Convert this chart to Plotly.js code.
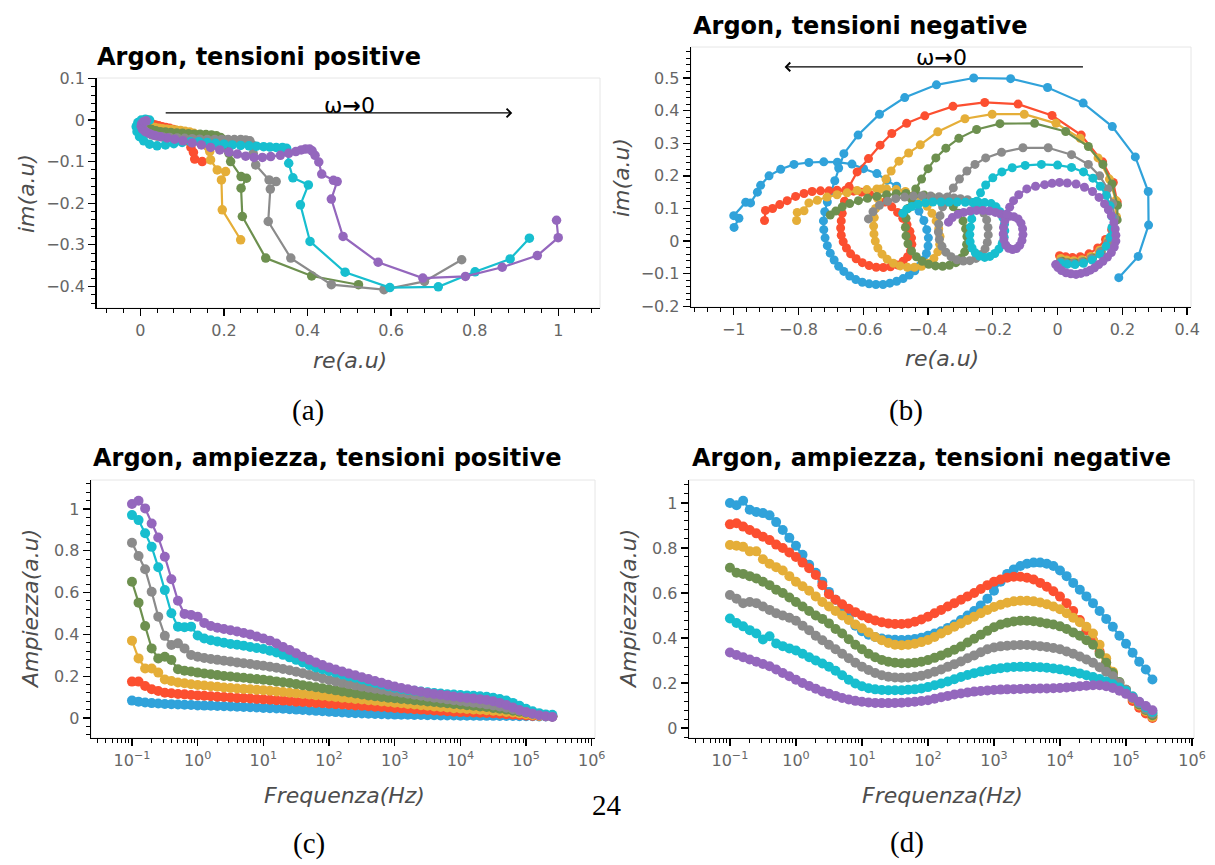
<!DOCTYPE html>
<html><head><meta charset="utf-8">
<script src="https://cdn.plot.ly/plotly-3.0.1.min.js"></script>
<style>html,body{margin:0;padding:0;background:#fff}#plot{width:1215px;height:865px}</style>
</head><body><div id="plot"></div>
<script>
// ---------- DATA ----------
const COLORS = ['#30a2da','#fc4f30','#e5ae38','#6d904f','#8b8b8b','#17becf','#9467bd'];

// Frequencies (Hz) for amplitude plots
const FREQ = [0.1,0.1259,0.1585,0.1995,0.2512,0.3162,0.3981,0.5012,0.631,0.7943,
1,1.259,1.585,1.995,2.512,3.162,3.981,5.012,6.31,7.943,
10,12.59,15.85,19.95,25.12,31.62,39.81,50.12,63.1,79.43,
100,125.9,158.5,199.5,251.2,316.2,398.1,501.2,631,794.3,
1000,1259,1585,1995,2512,3162,3981,5012,6310,7943,
10000,12590,15850,19950,25120,31620,39810,50120,63100,79430,
100000,125900,158500,199500,251200];

const LOG_TICKVALS = [0.1,1,10,100,1000,10000,100000,1000000];
const LOG_TICKTEXT = ['10<sup>\u22121</sup>','10<sup>0</sup>','10<sup>1</sup>','10<sup>2</sup>','10<sup>3</sup>','10<sup>4</sup>','10<sup>5</sup>','10<sup>6</sup>'];

// (a) Argon, tensioni positive  [re, im]
const posBlue = [[0.072,-0.041],[0.066,-0.036],[0.060,-0.033],[0.054,-0.030],[0.048,-0.027],[0.042,-0.024],[0.036,-0.021],[0.030,-0.018],[0.025,-0.015],[0.020,-0.012],[0.016,-0.009],[0.013,-0.006],[0.012,-0.003],[0.013,0.000]];
const posRed = [[0.148,-0.100],[0.130,-0.094],[0.127,-0.078],[0.121,-0.066],[0.117,-0.052],[0.112,-0.042],[0.105,-0.035],[0.097,-0.030],[0.088,-0.026],[0.079,-0.023],[0.070,-0.020],[0.061,-0.018],[0.052,-0.016],[0.044,-0.014],[0.036,-0.012],[0.029,-0.010],[0.023,-0.008],[0.018,-0.006],[0.015,-0.004],[0.014,-0.002],[0.016,0.000]];
const posYellow = [[0.240,-0.288],[0.196,-0.216],[0.194,-0.144],[0.204,-0.124],[0.184,-0.120],[0.168,-0.096],[0.166,-0.076],[0.161,-0.064],[0.155,-0.052],[0.147,-0.042],[0.138,-0.036],[0.128,-0.032],[0.118,-0.029],[0.107,-0.027],[0.096,-0.025],[0.085,-0.024],[0.074,-0.023],[0.063,-0.022],[0.053,-0.021],[0.044,-0.020],[0.035,-0.018],[0.027,-0.016],[0.020,-0.013],[0.015,-0.010],[0.013,-0.006],[0.014,-0.003]];
const posGreen = [[0.522,-0.396],[0.410,-0.375],[0.300,-0.332],[0.244,-0.232],[0.241,-0.164],[0.254,-0.140],[0.241,-0.136],[0.216,-0.100],[0.212,-0.080],[0.208,-0.062],[0.200,-0.048],[0.192,-0.042],[0.182,-0.038],[0.170,-0.036],[0.157,-0.035],[0.143,-0.034],[0.129,-0.034],[0.115,-0.033],[0.101,-0.032],[0.087,-0.031],[0.073,-0.030],[0.060,-0.029],[0.048,-0.028],[0.037,-0.026],[0.027,-0.023],[0.018,-0.019],[0.011,-0.014],[0.008,-0.009],[0.009,-0.005],[0.013,-0.003]];
const posGrey = [[0.769,-0.336],[0.680,-0.388],[0.583,-0.408],[0.457,-0.396],[0.360,-0.332],[0.306,-0.244],[0.311,-0.166],[0.325,-0.148],[0.308,-0.144],[0.276,-0.108],[0.270,-0.080],[0.268,-0.060],[0.262,-0.050],[0.252,-0.048],[0.240,-0.047],[0.225,-0.047],[0.210,-0.047],[0.195,-0.047],[0.178,-0.047],[0.160,-0.047],[0.142,-0.046],[0.124,-0.045],[0.106,-0.044],[0.088,-0.043],[0.070,-0.042],[0.054,-0.041],[0.040,-0.039],[0.028,-0.036],[0.017,-0.031],[0.009,-0.024],[0.004,-0.016],[0.004,-0.009],[0.008,-0.004],[0.014,-0.002]];
const posCyan = [[0.931,-0.284],[0.885,-0.334],[0.801,-0.365],[0.713,-0.401],[0.597,-0.403],[0.490,-0.366],[0.406,-0.292],[0.383,-0.204],[0.402,-0.156],[0.365,-0.139],[0.355,-0.104],[0.353,-0.078],[0.350,-0.068],[0.340,-0.066],[0.325,-0.066],[0.310,-0.065],[0.295,-0.064],[0.278,-0.063],[0.260,-0.062],[0.240,-0.061],[0.220,-0.060],[0.200,-0.058],[0.180,-0.056],[0.160,-0.054],[0.140,-0.052],[0.120,-0.052],[0.100,-0.054],[0.080,-0.057],[0.060,-0.060],[0.040,-0.062],[0.022,-0.058],[0.008,-0.050],[-0.002,-0.040],[-0.008,-0.028],[-0.010,-0.016],[-0.006,-0.006],[0.002,0.000],[0.012,0.002],[0.022,0.000]];
const posPurple = [[0.996,-0.241],[1.000,-0.283],[0.950,-0.326],[0.866,-0.354],[0.778,-0.376],[0.676,-0.380],[0.569,-0.342],[0.485,-0.280],[0.457,-0.190],[0.471,-0.148],[0.462,-0.145],[0.434,-0.130],[0.427,-0.101],[0.418,-0.085],[0.411,-0.074],[0.405,-0.070],[0.395,-0.070],[0.385,-0.072],[0.372,-0.076],[0.355,-0.080],[0.335,-0.085],[0.312,-0.088],[0.292,-0.090],[0.272,-0.090],[0.252,-0.087],[0.232,-0.082],[0.212,-0.077],[0.190,-0.072],[0.168,-0.066],[0.146,-0.060],[0.124,-0.055],[0.102,-0.050],[0.082,-0.046],[0.064,-0.043],[0.048,-0.040],[0.034,-0.037],[0.022,-0.033],[0.012,-0.028],[0.005,-0.022],[0.002,-0.015],[0.003,-0.009],[0.008,-0.004],[0.014,-0.002]];

// (b) Argon, tensioni negative  [re, im]
const negBlue = [[-0.999,0.042],[-0.984,0.070],[-1.000,0.078],[-0.963,0.119],[-0.948,0.117],[-0.927,0.150],[-0.917,0.171],[-0.891,0.200],[-0.855,0.220],[-0.814,0.235],[-0.768,0.241],[-0.722,0.243],[-0.680,0.242],[-0.635,0.236],[-0.599,0.222],[-0.558,0.207],[-0.527,0.186],[-0.497,0.168],[-0.470,0.145],[-0.447,0.120],[-0.428,0.092],[-0.413,0.063],[-0.404,0.035],[-0.399,0.010],[-0.400,-0.015],[-0.405,-0.038],[-0.414,-0.058],[-0.426,-0.076],[-0.441,-0.091],[-0.458,-0.104],[-0.477,-0.115],[-0.497,-0.123],[-0.518,-0.129],[-0.539,-0.133],[-0.561,-0.133],[-0.582,-0.131],[-0.603,-0.126],[-0.623,-0.118],[-0.642,-0.107],[-0.660,-0.093],[-0.676,-0.077],[-0.690,-0.058],[-0.702,-0.037],[-0.711,-0.014],[-0.718,0.010],[-0.722,0.035],[-0.723,0.062],[-0.719,0.090],[-0.711,0.120],[-0.699,0.152],[-0.688,0.185],[-0.676,0.224],[-0.660,0.268],[-0.616,0.325],[-0.550,0.389],[-0.472,0.440],[-0.374,0.479],[-0.259,0.500],[-0.145,0.498],[-0.031,0.471],[0.079,0.423],[0.169,0.351],[0.240,0.258],[0.280,0.152],[0.281,0.049],[0.249,-0.047],[0.189,-0.112]];
const negRed = [[-0.905,0.063],[-0.902,0.094],[-0.880,0.100],[-0.858,0.112],[-0.835,0.124],[-0.809,0.137],[-0.783,0.146],[-0.758,0.152],[-0.732,0.154],[-0.706,0.154],[-0.681,0.156],[-0.655,0.156],[-0.630,0.153],[-0.605,0.150],[-0.580,0.143],[-0.556,0.133],[-0.533,0.120],[-0.512,0.105],[-0.494,0.088],[-0.478,0.070],[-0.465,0.050],[-0.456,0.030],[-0.451,0.010],[-0.450,-0.010],[-0.454,-0.030],[-0.463,-0.048],[-0.477,-0.062],[-0.495,-0.073],[-0.516,-0.079],[-0.538,-0.081],[-0.560,-0.080],[-0.582,-0.075],[-0.603,-0.066],[-0.622,-0.054],[-0.639,-0.039],[-0.652,-0.021],[-0.662,-0.002],[-0.668,0.018],[-0.670,0.040],[-0.668,0.062],[-0.665,0.085],[-0.658,0.122],[-0.644,0.167],[-0.619,0.212],[-0.584,0.253],[-0.548,0.294],[-0.512,0.330],[-0.466,0.361],[-0.410,0.384],[-0.323,0.413],[-0.225,0.425],[-0.122,0.420],[-0.017,0.385],[0.073,0.325],[0.139,0.243],[0.172,0.180],[0.184,0.120],[0.180,0.070],[0.167,0.035],[0.148,0.005],[0.124,-0.021],[0.097,-0.039],[0.070,-0.048],[0.046,-0.050],[0.025,-0.048],[0.006,-0.045]];
const negYellow = [[-0.806,0.063],[-0.804,0.088],[-0.783,0.093],[-0.768,0.117],[-0.742,0.125],[-0.712,0.135],[-0.681,0.142],[-0.650,0.148],[-0.619,0.155],[-0.589,0.158],[-0.558,0.160],[-0.528,0.160],[-0.498,0.158],[-0.470,0.152],[-0.445,0.140],[-0.422,0.125],[-0.403,0.107],[-0.388,0.085],[-0.375,0.062],[-0.367,0.038],[-0.363,0.014],[-0.364,-0.010],[-0.370,-0.033],[-0.382,-0.053],[-0.400,-0.068],[-0.420,-0.077],[-0.442,-0.080],[-0.464,-0.080],[-0.486,-0.076],[-0.507,-0.068],[-0.526,-0.056],[-0.542,-0.040],[-0.555,-0.021],[-0.563,0.000],[-0.567,0.022],[-0.568,0.046],[-0.566,0.072],[-0.562,0.100],[-0.555,0.130],[-0.545,0.160],[-0.530,0.190],[-0.514,0.215],[-0.490,0.245],[-0.460,0.270],[-0.424,0.295],[-0.370,0.335],[-0.286,0.375],[-0.202,0.389],[-0.103,0.389],[-0.005,0.361],[0.070,0.315],[0.125,0.255],[0.160,0.190],[0.180,0.125],[0.182,0.075],[0.172,0.035],[0.155,0.002],[0.130,-0.028],[0.103,-0.047],[0.075,-0.057],[0.050,-0.060],[0.028,-0.058],[0.010,-0.053]];
const negGreen = [[-0.702,0.080],[-0.685,0.092],[-0.665,0.105],[-0.642,0.115],[-0.615,0.124],[-0.587,0.131],[-0.558,0.137],[-0.528,0.142],[-0.498,0.145],[-0.468,0.146],[-0.438,0.145],[-0.412,0.141],[-0.388,0.135],[-0.365,0.130],[-0.342,0.120],[-0.322,0.105],[-0.305,0.085],[-0.292,0.062],[-0.284,0.038],[-0.280,0.014],[-0.281,-0.010],[-0.287,-0.033],[-0.298,-0.052],[-0.314,-0.066],[-0.334,-0.074],[-0.355,-0.077],[-0.377,-0.076],[-0.398,-0.071],[-0.418,-0.062],[-0.436,-0.048],[-0.451,-0.030],[-0.462,-0.008],[-0.468,0.016],[-0.470,0.042],[-0.468,0.070],[-0.462,0.100],[-0.452,0.130],[-0.438,0.160],[-0.420,0.190],[-0.400,0.222],[-0.376,0.255],[-0.345,0.285],[-0.305,0.315],[-0.250,0.342],[-0.178,0.360],[-0.071,0.361],[0.025,0.336],[0.095,0.290],[0.140,0.235],[0.168,0.175],[0.185,0.110],[0.184,0.065],[0.174,0.028],[0.158,-0.005],[0.135,-0.033],[0.108,-0.052],[0.080,-0.063],[0.054,-0.067],[0.032,-0.066],[0.014,-0.062]];
const negGrey = [[-0.584,0.068],[-0.570,0.090],[-0.550,0.110],[-0.525,0.122],[-0.500,0.130],[-0.472,0.135],[-0.445,0.138],[-0.418,0.139],[-0.392,0.138],[-0.366,0.136],[-0.342,0.134],[-0.320,0.132],[-0.300,0.130],[-0.278,0.127],[-0.258,0.118],[-0.241,0.104],[-0.228,0.086],[-0.219,0.065],[-0.215,0.042],[-0.214,0.019],[-0.217,-0.004],[-0.224,-0.024],[-0.236,-0.041],[-0.252,-0.053],[-0.271,-0.060],[-0.291,-0.061],[-0.311,-0.057],[-0.329,-0.048],[-0.345,-0.034],[-0.357,-0.016],[-0.365,0.005],[-0.368,0.028],[-0.367,0.052],[-0.363,0.078],[-0.355,0.105],[-0.340,0.135],[-0.322,0.163],[-0.303,0.190],[-0.280,0.215],[-0.255,0.235],[-0.222,0.255],[-0.173,0.272],[-0.107,0.286],[-0.029,0.286],[0.043,0.265],[0.095,0.235],[0.130,0.200],[0.155,0.160],[0.170,0.115],[0.176,0.070],[0.170,0.030],[0.155,-0.005],[0.132,-0.033],[0.104,-0.053],[0.075,-0.064],[0.048,-0.068],[0.025,-0.067],[0.008,-0.063]];
const negCyan = [[-0.478,0.085],[-0.466,0.098],[-0.450,0.106],[-0.430,0.113],[-0.408,0.117],[-0.385,0.120],[-0.360,0.120],[-0.335,0.120],[-0.310,0.120],[-0.285,0.119],[-0.262,0.118],[-0.243,0.118],[-0.225,0.118],[-0.205,0.115],[-0.190,0.105],[-0.178,0.090],[-0.169,0.072],[-0.164,0.052],[-0.163,0.032],[-0.165,0.012],[-0.171,-0.007],[-0.181,-0.024],[-0.194,-0.038],[-0.209,-0.047],[-0.225,-0.050],[-0.241,-0.046],[-0.254,-0.036],[-0.264,-0.021],[-0.270,-0.002],[-0.271,0.020],[-0.269,0.043],[-0.265,0.068],[-0.259,0.095],[-0.250,0.122],[-0.238,0.148],[-0.222,0.172],[-0.200,0.194],[-0.172,0.212],[-0.140,0.225],[-0.100,0.232],[-0.050,0.235],[0.000,0.233],[0.043,0.226],[0.080,0.212],[0.109,0.193],[0.132,0.168],[0.150,0.140],[0.162,0.108],[0.168,0.075],[0.168,0.042],[0.162,0.012],[0.150,-0.016],[0.131,-0.040],[0.107,-0.058],[0.080,-0.068],[0.054,-0.072],[0.030,-0.071],[0.010,-0.067]];
const negPurple = [[-0.337,0.058],[-0.325,0.072],[-0.308,0.082],[-0.290,0.088],[-0.270,0.092],[-0.250,0.094],[-0.230,0.094],[-0.210,0.092],[-0.192,0.088],[-0.176,0.083],[-0.162,0.078],[-0.148,0.076],[-0.135,0.075],[-0.122,0.068],[-0.113,0.055],[-0.108,0.038],[-0.107,0.020],[-0.110,0.002],[-0.117,-0.013],[-0.127,-0.023],[-0.139,-0.026],[-0.151,-0.022],[-0.160,-0.012],[-0.166,0.004],[-0.168,0.022],[-0.167,0.042],[-0.163,0.062],[-0.157,0.083],[-0.148,0.104],[-0.136,0.124],[-0.120,0.142],[-0.095,0.160],[-0.068,0.168],[-0.040,0.173],[-0.017,0.177],[0.006,0.180],[0.030,0.178],[0.057,0.175],[0.083,0.165],[0.108,0.152],[0.128,0.134],[0.145,0.114],[0.157,0.096],[0.166,0.078],[0.174,0.057],[0.178,0.037],[0.180,0.018],[0.180,0.000],[0.175,-0.018],[0.166,-0.035],[0.154,-0.049],[0.140,-0.062],[0.127,-0.072],[0.114,-0.082],[0.101,-0.089],[0.088,-0.095],[0.072,-0.099],[0.057,-0.102],[0.041,-0.100],[0.026,-0.097],[0.012,-0.090],[0.001,-0.081],[-0.006,-0.072]];

// (c) Amplitude, tensioni positive (one value per FREQ)
const posAmpBlue = [0.083,0.078,0.074,0.071,0.069,0.067,0.066,0.064,0.063,0.062,0.060,0.059,0.058,0.057,0.056,0.055,0.054,0.052,0.051,0.050,0.048,0.047,0.045,0.044,0.042,0.040,0.038,0.036,0.034,0.032,0.030,0.028,0.026,0.024,0.023,0.021,0.020,0.019,0.018,0.017,0.016,0.015,0.015,0.014,0.014,0.013,0.013,0.012,0.012,0.012,0.011,0.011,0.011,0.010,0.010,0.010,0.009,0.009,0.009,0.008,0.008,0.008,0.007,0.007,0.007];
const posAmpRed = [0.174,0.174,0.153,0.137,0.129,0.121,0.118,0.115,0.113,0.110,0.108,0.106,0.104,0.102,0.100,0.098,0.096,0.095,0.093,0.091,0.089,0.087,0.085,0.083,0.081,0.078,0.076,0.074,0.072,0.070,0.068,0.066,0.064,0.062,0.060,0.058,0.056,0.054,0.052,0.050,0.048,0.046,0.044,0.042,0.040,0.038,0.036,0.034,0.032,0.030,0.028,0.027,0.026,0.025,0.024,0.022,0.020,0.018,0.016,0.014,0.012,0.010,0.009,0.008,0.007];
const posAmpYellow = [0.370,0.285,0.237,0.237,0.217,0.184,0.177,0.170,0.166,0.161,0.158,0.155,0.152,0.149,0.146,0.143,0.141,0.139,0.137,0.135,0.133,0.130,0.127,0.124,0.121,0.118,0.115,0.112,0.109,0.106,0.103,0.100,0.097,0.094,0.091,0.088,0.085,0.082,0.079,0.076,0.073,0.070,0.067,0.064,0.061,0.058,0.055,0.052,0.050,0.047,0.045,0.043,0.041,0.039,0.037,0.035,0.032,0.029,0.026,0.022,0.018,0.014,0.011,0.009,0.007];
const posAmpGreen = [0.652,0.552,0.440,0.333,0.285,0.293,0.277,0.233,0.226,0.222,0.217,0.213,0.209,0.205,0.201,0.198,0.195,0.192,0.189,0.186,0.183,0.179,0.175,0.171,0.167,0.162,0.157,0.152,0.147,0.142,0.137,0.132,0.127,0.122,0.117,0.112,0.108,0.104,0.100,0.097,0.094,0.091,0.088,0.085,0.082,0.079,0.076,0.073,0.070,0.067,0.064,0.061,0.058,0.055,0.052,0.048,0.044,0.040,0.035,0.030,0.025,0.020,0.015,0.011,0.008];
const posAmpGrey = [0.839,0.775,0.712,0.604,0.485,0.393,0.349,0.357,0.333,0.301,0.293,0.287,0.282,0.278,0.274,0.270,0.266,0.262,0.258,0.254,0.250,0.245,0.240,0.234,0.228,0.221,0.214,0.206,0.198,0.190,0.182,0.175,0.168,0.162,0.156,0.150,0.145,0.140,0.135,0.130,0.126,0.121,0.116,0.111,0.106,0.102,0.097,0.093,0.089,0.085,0.081,0.077,0.073,0.069,0.065,0.060,0.055,0.049,0.042,0.035,0.028,0.021,0.015,0.011,0.008];
const posAmpCyan = [0.971,0.947,0.884,0.819,0.721,0.612,0.501,0.437,0.434,0.437,0.395,0.380,0.372,0.366,0.360,0.354,0.350,0.346,0.340,0.335,0.330,0.322,0.313,0.302,0.290,0.278,0.265,0.253,0.242,0.233,0.225,0.217,0.208,0.200,0.192,0.184,0.176,0.168,0.160,0.152,0.145,0.139,0.134,0.130,0.126,0.123,0.120,0.117,0.114,0.112,0.110,0.108,0.106,0.104,0.101,0.097,0.091,0.083,0.072,0.058,0.044,0.032,0.023,0.017,0.015];
const posAmpPurple = [1.024,1.040,1.003,0.931,0.864,0.772,0.664,0.561,0.498,0.493,0.485,0.455,0.440,0.432,0.426,0.420,0.414,0.407,0.400,0.390,0.380,0.370,0.356,0.340,0.325,0.310,0.293,0.278,0.265,0.253,0.242,0.232,0.222,0.213,0.204,0.195,0.186,0.177,0.168,0.159,0.150,0.143,0.137,0.131,0.125,0.120,0.115,0.111,0.107,0.103,0.099,0.096,0.093,0.090,0.086,0.080,0.072,0.062,0.050,0.038,0.028,0.020,0.013,0.008,0.005];

// (d) Amplitude, tensioni negative
const negAmpBlue = [1.000,0.990,1.010,0.970,0.960,0.955,0.945,0.915,0.880,0.845,0.810,0.770,0.725,0.690,0.650,0.605,0.570,0.535,0.490,0.455,0.430,0.415,0.405,0.398,0.394,0.392,0.391,0.392,0.396,0.401,0.410,0.420,0.430,0.445,0.460,0.480,0.500,0.520,0.545,0.575,0.610,0.650,0.685,0.705,0.720,0.730,0.735,0.735,0.730,0.720,0.700,0.675,0.645,0.615,0.585,0.555,0.520,0.485,0.450,0.410,0.375,0.335,0.295,0.260,0.216];
const negAmpRed = [0.905,0.910,0.895,0.880,0.865,0.850,0.835,0.815,0.800,0.780,0.760,0.735,0.710,0.680,0.635,0.595,0.570,0.550,0.530,0.515,0.500,0.488,0.478,0.470,0.465,0.462,0.462,0.465,0.472,0.482,0.495,0.510,0.525,0.540,0.555,0.570,0.585,0.600,0.618,0.635,0.650,0.660,0.668,0.672,0.672,0.668,0.660,0.645,0.628,0.608,0.584,0.555,0.520,0.480,0.435,0.390,0.340,0.290,0.240,0.190,0.155,0.120,0.090,0.065,0.045];
const negAmpYellow = [0.813,0.810,0.805,0.785,0.785,0.750,0.730,0.715,0.700,0.675,0.650,0.630,0.610,0.585,0.560,0.540,0.520,0.500,0.480,0.460,0.443,0.425,0.405,0.390,0.378,0.370,0.368,0.370,0.375,0.382,0.391,0.405,0.420,0.435,0.450,0.465,0.480,0.495,0.510,0.525,0.538,0.548,0.557,0.563,0.566,0.566,0.563,0.558,0.550,0.540,0.528,0.510,0.490,0.470,0.450,0.420,0.370,0.310,0.250,0.200,0.165,0.130,0.100,0.075,0.050];
const negAmpGreen = [0.712,0.690,0.685,0.675,0.665,0.650,0.635,0.615,0.600,0.580,0.560,0.540,0.520,0.500,0.485,0.465,0.440,0.420,0.395,0.370,0.350,0.330,0.315,0.303,0.295,0.290,0.288,0.288,0.290,0.295,0.302,0.312,0.323,0.335,0.348,0.362,0.380,0.397,0.415,0.432,0.448,0.460,0.468,0.474,0.477,0.477,0.475,0.470,0.465,0.460,0.452,0.440,0.425,0.410,0.390,0.370,0.330,0.290,0.245,0.205,0.170,0.135,0.105,0.080,0.057];
const negAmpGrey = [0.591,0.575,0.555,0.560,0.555,0.540,0.525,0.510,0.500,0.490,0.477,0.455,0.435,0.410,0.390,0.370,0.350,0.330,0.310,0.290,0.273,0.258,0.245,0.235,0.228,0.225,0.224,0.225,0.228,0.233,0.240,0.250,0.260,0.272,0.284,0.296,0.310,0.323,0.337,0.350,0.358,0.363,0.366,0.368,0.369,0.369,0.367,0.364,0.360,0.356,0.350,0.340,0.330,0.318,0.305,0.290,0.270,0.250,0.230,0.200,0.170,0.140,0.110,0.085,0.065];
const negAmpCyan = [0.487,0.467,0.452,0.435,0.420,0.394,0.408,0.376,0.364,0.354,0.345,0.330,0.315,0.300,0.287,0.273,0.255,0.235,0.215,0.198,0.186,0.177,0.172,0.169,0.168,0.168,0.168,0.170,0.172,0.176,0.182,0.190,0.198,0.207,0.217,0.227,0.236,0.244,0.251,0.257,0.262,0.266,0.269,0.271,0.272,0.272,0.271,0.270,0.268,0.265,0.261,0.256,0.250,0.243,0.235,0.227,0.218,0.207,0.195,0.180,0.165,0.140,0.115,0.093,0.072];
const negAmpPurple = [0.336,0.325,0.315,0.305,0.295,0.285,0.275,0.260,0.245,0.230,0.215,0.200,0.187,0.175,0.163,0.153,0.143,0.134,0.127,0.121,0.117,0.114,0.112,0.111,0.111,0.112,0.113,0.115,0.117,0.120,0.124,0.130,0.137,0.143,0.149,0.154,0.158,0.162,0.165,0.167,0.169,0.171,0.172,0.173,0.174,0.175,0.175,0.176,0.176,0.177,0.178,0.180,0.183,0.186,0.188,0.190,0.190,0.186,0.178,0.166,0.152,0.135,0.117,0.098,0.079];

// ---------- BUILD ----------
const W = 1215, H = 865;
const px = v => v / W;
const py = v => 1 - v / H;
const FONT = 'DejaVu Sans, Liberation Sans, Arial, sans-serif';
const SERIF = 'Liberation Serif, Times New Roman, serif';

function mk(x, y, color, xa, ya, msize) {
  return {x, y, type:'scatter', mode:'lines+markers', xaxis:xa, yaxis:ya,
    line:{color, width:2.2}, marker:{color, size:msize}, hoverinfo:'skip', showlegend:false};
}
const traces = [];
[posBlue,posRed,posYellow,posGreen,posGrey,posCyan,posPurple].forEach((s,i)=>
  traces.push(mk(s.map(p=>p[0]), s.map(p=>p[1]), COLORS[i], 'x', 'y', 9.5)));
[negBlue,negRed,negYellow,negGreen,negGrey,negCyan,negPurple].forEach((s,i)=>
  traces.push(mk(s.map(p=>p[0]), s.map(p=>p[1]), COLORS[i], 'x2', 'y2', 9)));
[posAmpBlue,posAmpRed,posAmpYellow,posAmpGreen,posAmpGrey,posAmpCyan,posAmpPurple].forEach((s,i)=>
  traces.push(mk(FREQ, s, COLORS[i], 'x3', 'y3', 10)));
[negAmpBlue,negAmpRed,negAmpYellow,negAmpGreen,negAmpGrey,negAmpCyan,negAmpPurple].forEach((s,i)=>
  traces.push(mk(FREQ, s, COLORS[i], 'x4', 'y4', 10)));

// minor tick positions for log axes
const logMinor = [];
for (let e = -2; e <= 5; e++) for (let d = 2; d <= 9; d++) logMinor.push(d * Math.pow(10, e));

function ax(extra) {
  return Object.assign({
    showline:true, linecolor:'#000', linewidth:1.3, mirror:false,
    ticks:'outside', ticklen:7, tickwidth:1.3, tickcolor:'#000',
    showgrid:false, zeroline:false,
    tickfont:{family:FONT, size:16, color:'#666'},
    fixedrange:true
  }, extra);
}
function linMinor(dt) { return {ticks:'outside', ticklen:4, tickwidth:1, tickcolor:'#000', dtick:dt, tick0:0, showgrid:false}; }

const layout = {
  width:W, height:H, margin:{l:0,r:0,t:0,b:0},
  paper_bgcolor:'#fff', plot_bgcolor:'#fff', showlegend:false, hovermode:false,
  xaxis: ax({domain:[px(96.5), px(600)], anchor:'y', range:[-0.105, 1.1], dtick:0.2, tick0:0, minor:linMinor(0.04)}),
  yaxis: ax({domain:[py(308), py(78)], anchor:'x', range:[-0.452, 0.101], dtick:0.1, tick0:0, minor:linMinor(0.02)}),
  xaxis2: ax({domain:[px(691), px(1191)], anchor:'y2', range:[-1.132, 0.412], dtick:0.2, tick0:0, minor:linMinor(0.04)}),
  yaxis2: ax({domain:[py(307), py(47)], anchor:'x2', range:[-0.202, 0.595], dtick:0.1, tick0:0, minor:linMinor(0.02)}),
  xaxis3: ax({domain:[px(91), px(595)], anchor:'y3', type:'log', range:[-1.624, 6.05],
    tickmode:'array', tickvals:LOG_TICKVALS, ticktext:LOG_TICKTEXT,
    minor:{ticks:'outside', ticklen:4, tickwidth:1, tickcolor:'#000', tickmode:'array', tickvals:logMinor}}),
  yaxis3: ax({domain:[py(738), py(480)], anchor:'x3', range:[-0.096, 1.139], dtick:0.2, tick0:0, minor:linMinor(0.04)}),
  xaxis4: ax({domain:[px(689), px(1194)], anchor:'y4', type:'log', range:[-1.62, 6.03],
    tickmode:'array', tickvals:LOG_TICKVALS, ticktext:LOG_TICKTEXT,
    minor:{ticks:'outside', ticklen:4, tickwidth:1, tickcolor:'#000', tickmode:'array', tickvals:logMinor}}),
  yaxis4: ax({domain:[py(738), py(480)], anchor:'x4', range:[-0.044, 1.102], dtick:0.2, tick0:0, minor:linMinor(0.04)}),
  shapes: ['', '2', '3', '4'].map(s => ({type:'rect', xref:'x'+s+' domain', yref:'y'+s+' domain',
    x0:0, x1:1, y0:0, y1:1, line:{color:'#e6e6e6', width:1}, layer:'below'})),
  annotations: []
};

const A = layout.annotations;
function txt(text, x, y, size, opts) {
  A.push(Object.assign({text, x:px(x), y:py(y), xref:'paper', yref:'paper', showarrow:false,
    xanchor:'center', yanchor:'middle', font:{family:FONT, size, color:'#000'}}, opts || {}));
}
// plot titles
txt('<b>Argon, tensioni positive</b>', 95, 57, 24, {xanchor:'left'});
txt('<b>Argon, tensioni negative</b>', 691, 26, 24, {xanchor:'left'});
txt('<b>Argon, ampiezza, tensioni positive</b>', 91, 458, 24, {xanchor:'left'});
txt('<b>Argon, ampiezza, tensioni negative</b>', 690, 458, 24, {xanchor:'left'});
// axis titles
const AT = {family:FONT, size:22, color:'#4d4d4d'};
txt('<i>im(a.u)</i>', 26, 194, 22, {textangle:-90, font:AT});
txt('<i>re(a.u)</i>', 350, 360, 22, {font:AT});
txt('<i>im(a.u)</i>', 621, 178, 22, {textangle:-90, font:AT});
txt('<i>re(a.u)</i>', 942, 358, 22, {font:AT});
txt('<i>Ampiezza(a.u)</i>', 30, 609, 22, {textangle:-90, font:AT});
txt('<i>Frequenza(Hz)</i>', 344, 795, 22, {font:AT});
txt('<i>Ampiezza(a.u)</i>', 628, 609, 22, {textangle:-90, font:AT});
txt('<i>Frequenza(Hz)</i>', 942, 795, 22, {font:AT});
// captions
const CF = {family:SERIF, size:29, color:'#000'};
txt('(a)', 308, 410, 29, {font:CF});
txt('(b)', 906, 410, 29, {font:CF});
txt('(c)', 309, 843, 29, {font:CF});
txt('(d)', 907, 842, 29, {font:CF});
txt('24', 607, 805, 29, {font:CF});

// omega arrows
A.push({xref:'x', yref:'y', axref:'x', ayref:'y', x:0.89, y:0.017, ax:0.057, ay:0.017, text:'',
  showarrow:true, arrowhead:4, arrowsize:1.4, arrowwidth:1.2, arrowcolor:'#000'});
A.push({xref:'x', yref:'y', x:0.50, y:0.036, text:'\u03c9<b>\u2192</b>0', showarrow:false,
  font:{family:FONT, size:22, color:'#000'}});
A.push({xref:'x2', yref:'y2', axref:'x2', ayref:'y2', x:-0.843, y:0.534, ax:0.083, ay:0.534, text:'',
  showarrow:true, arrowhead:4, arrowsize:1.4, arrowwidth:1.2, arrowcolor:'#000'});
A.push({xref:'x2', yref:'y2', x:-0.357, y:0.562, text:'\u03c9<b>\u2192</b>0', showarrow:false,
  font:{family:FONT, size:22, color:'#000'}});

Plotly.newPlot('plot', traces, layout, {staticPlot:true, displayModeBar:false});
</script></body></html>
